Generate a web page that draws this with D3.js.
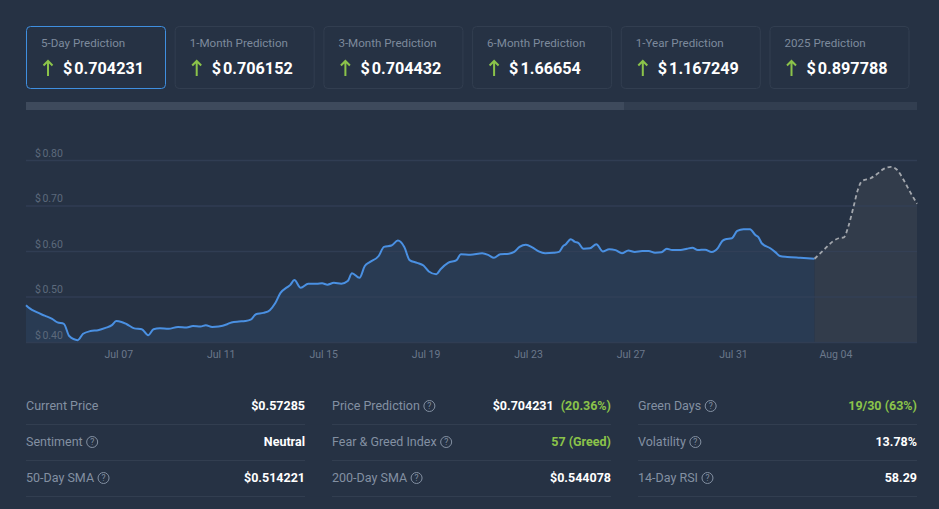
<!DOCTYPE html>
<html>
<head>
<meta charset="utf-8">
<script src="https://cdn.jsdelivr.net/npm/d3@7"></script>
<style>
  html, body { margin: 0; padding: 0; background: #263244; }
  svg { display: block; font-family: Roboto, "Noto Sans", sans-serif; }
</style>
</head>
<body>
<svg id="chart" width="939" height="509"></svg>
<script>
// prediction cards
const cardTitles = ['5-Day Prediction', '1-Month Prediction', '3-Month Prediction', '6-Month Prediction', '1-Year Prediction', '2025 Prediction'];
const cardValues = ['0.704231', '0.706152', '0.704432', '1.66654', '1.167249', '0.897788'];

// price history (2024)
const priceTimes = [
  '07-03 09:30', '07-03 13:00', '07-03 19:00', '07-04 03:00', '07-04 10:00', '07-04 15:00', '07-04 21:00',
  '07-05 02:00', '07-05 10:00', '07-05 15:00', '07-05 22:00', '07-06 05:00', '07-06 12:00', '07-06 18:00',
  '07-06 22:00', '07-07 03:00', '07-07 08:00', '07-07 15:00', '07-07 22:00', '07-08 04:00', '07-08 09:00',
  '07-08 15:00', '07-08 23:00', '07-09 08:00', '07-09 16:00', '07-09 22:00', '07-10 05:00', '07-10 10:00',
  '07-10 16:00', '07-10 22:00', '07-11 06:00', '07-11 10:00', '07-11 17:00', '07-11 23:00', '07-12 04:00',
  '07-12 09:00', '07-12 16:00', '07-12 22:00', '07-13 03:00', '07-13 08:00', '07-13 14:00', '07-13 17:00',
  '07-13 21:00', '07-14 03:00', '07-14 10:00', '07-14 18:00', '07-14 23:00', '07-15 04:00', '07-15 10:00',
  '07-15 17:00', '07-15 23:00', '07-16 03:00', '07-16 10:00', '07-16 15:00', '07-16 20:00', '07-17 04:00',
  '07-17 09:00', '07-17 16:00', '07-17 22:00', '07-18 04:00', '07-18 09:00', '07-18 16:00', '07-18 22:00',
  '07-19 03:00', '07-19 10:00', '07-19 14:00', '07-19 21:00', '07-20 05:00', '07-20 09:00', '07-20 18:00',
  '07-21 05:00', '07-21 11:00', '07-21 16:00', '07-21 22:00', '07-22 06:00', '07-22 11:00', '07-22 16:00',
  '07-22 22:00', '07-23 04:00', '07-23 10:00', '07-23 16:00', '07-24 00:00', '07-24 05:00', '07-24 09:00',
  '07-24 11:00', '07-24 16:00', '07-24 20:00', '07-24 23:00', '07-25 04:00', '07-25 10:00', '07-25 16:00',
  '07-25 22:00', '07-26 04:00', '07-26 10:00', '07-26 16:00', '07-26 22:00', '07-27 04:00', '07-27 11:00',
  '07-27 17:00', '07-27 23:00', '07-28 05:00', '07-28 10:00', '07-28 15:00', '07-28 23:00', '07-29 05:00',
  '07-29 10:00', '07-29 15:00', '07-29 22:00', '07-30 04:00', '07-30 10:00', '07-30 14:00', '07-30 17:00',
  '07-30 23:00', '07-31 04:00', '07-31 10:00', '07-31 16:00', '07-31 21:00', '08-01 00:00', '08-01 03:00',
  '08-01 11:00', '08-01 16:00', '08-01 20:00', '08-02 03:00', '08-02 15:00', '08-03 04:30'
];
const priceValues = [
  0.481, 0.474, 0.466, 0.458, 0.451, 0.443, 0.440,
  0.413, 0.404, 0.418, 0.424, 0.426, 0.431, 0.437,
  0.446, 0.444, 0.439, 0.430, 0.428, 0.415, 0.428,
  0.430, 0.429, 0.433, 0.432, 0.435, 0.434, 0.437,
  0.433, 0.434, 0.439, 0.443, 0.445, 0.446, 0.449,
  0.461, 0.464, 0.470, 0.485, 0.508, 0.520, 0.525,
  0.536, 0.519, 0.528, 0.528, 0.529, 0.526, 0.530,
  0.528, 0.534, 0.551, 0.541, 0.567, 0.576, 0.589,
  0.609, 0.612, 0.623, 0.609, 0.580, 0.574, 0.568,
  0.555, 0.549, 0.560, 0.574, 0.580, 0.593, 0.592,
  0.595, 0.591, 0.585, 0.593, 0.594, 0.598, 0.609,
  0.614, 0.608, 0.599, 0.595, 0.596, 0.598, 0.611,
  0.614, 0.626, 0.620, 0.618, 0.605, 0.606, 0.615,
  0.599, 0.604, 0.602, 0.595, 0.601, 0.598, 0.600,
  0.600, 0.596, 0.597, 0.605, 0.602, 0.602, 0.605,
  0.607, 0.602, 0.603, 0.598, 0.607, 0.622, 0.626,
  0.628, 0.644, 0.648, 0.648, 0.635, 0.630, 0.617,
  0.606, 0.597, 0.589, 0.587, 0.585, 0.583
];

// 5-day forecast
const forecastTimes = [
  '08-03 04:30', '08-03 13:00', '08-03 21:00', '08-04 03:00', '08-04 08:00', '08-04 12:00',
  '08-04 17:00', '08-04 21:00', '08-05 01:00', '08-05 09:00', '08-05 15:00', '08-05 21:00',
  '08-06 04:00', '08-06 10:00', '08-06 16:00', '08-06 22:00', '08-07 04:30'
];
const forecastValues = [
  0.583, 0.602, 0.620, 0.628, 0.630, 0.653,
  0.697, 0.734, 0.754, 0.760, 0.769, 0.780,
  0.785, 0.778, 0.756, 0.730, 0.704
];

const yTicks = [0.40, 0.50, 0.60, 0.70, 0.80];
const xTickDays = ['07-07', '07-11', '07-15', '07-19', '07-23', '07-27', '07-31', '08-04'];

// stats table, one array per column
const statLabels = [
  ['Current Price', 'Sentiment', '50-Day SMA'],
  ['Price Prediction', 'Fear & Greed Index', '200-Day SMA'],
  ['Green Days', 'Volatility', '14-Day RSI']
];
const statHelp = [
  [false, true, true],
  [true, true, true],
  [true, true, true]
];
const statValues = [
  ['$0.57285', 'Neutral', '$0.514221'],
  ['$0.704231', '57 (Greed)', '$0.544078'],
  ['19/30 (63%)', '13.78%', '58.29']
];
const statExtra = [
  [null, null, null],
  ['(20.36%)', null, null],
  [null, null, null]
];
const statGreen = [
  [false, false, false],
  [false, true, false],
  [true, false, false]
];

const green = '#8bc34a';
const svg = d3.select('#chart');
const parseTime = d3.timeParse('%Y-%m-%d %H:%M');
const parseDay = d3.timeParse('%Y-%m-%d');

// ---- prediction cards ----
const cardW = 139, cardH = 62, cardX0 = 26, cardPitch = 148.7, cardY = 26;
const cards = svg.append('g')
  .selectAll('g')
  .data(cardTitles)
  .join('g')
    .attr('transform', (d, i) => `translate(${cardX0 + i * cardPitch},${cardY})`);

cards.append('rect')
    .attr('x', 0.5).attr('y', 0.5)
    .attr('width', cardW).attr('height', cardH)
    .attr('rx', 4)
    .attr('fill', '#263244')
    .attr('stroke', (d, i) => i === 0 ? '#3f8fe0' : '#323e50')
    .attr('stroke-width', 1);

cards.append('text')
    .attr('x', 15).attr('y', 21)
    .attr('fill', '#7d8a9c')
    .attr('font-size', 11.6)
    .text(d => d);

cards.append('path')
    .attr('d', 'M22,50 L22,35 M17.5,39.5 L22,35 L26.5,39.5')
    .attr('fill', 'none')
    .attr('stroke', green)
    .attr('stroke-width', 2);

const cardVal = cards.append('text')
    .attr('x', 37).attr('y', 48)
    .attr('fill', '#ffffff')
    .attr('font-size', 16.2)
    .attr('font-weight', 'bold');
cardVal.append('tspan').text('$');
cardVal.append('tspan').attr('dx', 2).text((d, i) => cardValues[i]);

// ---- scroll bar ----
svg.append('rect').attr('x', 26).attr('y', 102).attr('width', 891).attr('height', 8).attr('fill', '#323e50');
svg.append('rect').attr('x', 26).attr('y', 102).attr('width', 598).attr('height', 8).attr('fill', '#3e4a5c');

// ---- chart ----
const plotLeft = 26, plotRight = 917, plotTop = 160, plotBottom = 342;
const price = priceTimes.map((t, i) => ({ date: parseTime('2024-' + t), value: priceValues[i] }));
const forecast = forecastTimes.map((t, i) => ({ date: parseTime('2024-' + t), value: forecastValues[i] }));

const x = d3.scaleTime()
    .domain([price[0].date, forecast[forecast.length - 1].date])
    .range([plotLeft, plotRight]);
const y = d3.scaleLinear()
    .domain([0.40, 0.80])
    .range([plotBottom, plotTop]);

const area = d3.area()
    .x(d => x(d.date))
    .y0(plotBottom)
    .y1(d => y(d.value))
    .curve(d3.curveMonotoneX);
const line = d3.line()
    .x(d => x(d.date))
    .y(d => y(d.value))
    .curve(d3.curveMonotoneX);

svg.append('path').datum(price).attr('d', area).attr('fill', '#293b53');
svg.append('path').datum(forecast).attr('d', area).attr('fill', '#323c4b');

const yAxis = svg.append('g')
    .attr('transform', `translate(${plotLeft},0)`)
    .call(d3.axisRight(y)
      .tickValues(yTicks)
      .tickSize(plotRight - plotLeft));
yAxis.select('.domain').remove();
yAxis.selectAll('line').attr('stroke', '#34415a').attr('stroke-opacity', 0.7).attr('stroke-width', 1.5);
yAxis.selectAll('text')
    .attr('x', 9).attr('y', -4).attr('dy', 0)
    .attr('fill', '#5d6a7c')
    .attr('font-size', 10.5)
    .attr('font-family', 'Roboto, sans-serif')
    .attr('text-anchor', 'start')
    .each(function (d) {
      const t = d3.select(this).text('');
      t.append('tspan').text('$');
      t.append('tspan').attr('dx', 1.5).text(d3.format('.2f')(d));
    });

svg.append('path').datum(price)
    .attr('d', line)
    .attr('fill', 'none')
    .attr('stroke', '#4a90e2')
    .attr('stroke-width', 2)
    .attr('stroke-linejoin', 'round');
svg.append('path').datum(forecast)
    .attr('d', line)
    .attr('fill', 'none')
    .attr('stroke', '#a3a7ad')
    .attr('stroke-width', 1.8)
    .attr('stroke-dasharray', '4,3');

const xAxis = svg.append('g')
    .attr('transform', `translate(0,${plotBottom})`)
    .call(d3.axisBottom(x)
      .tickValues(xTickDays.map(d => parseDay('2024-' + d)))
      .tickSize(0)
      .tickPadding(9)
      .tickFormat(d3.timeFormat('%b %d')));
xAxis.select('.domain').remove();
xAxis.selectAll('text')
    .attr('fill', '#6b788b')
    .attr('font-size', 10.5)
    .attr('font-family', 'Roboto, sans-serif');

// ---- stats table ----
const colX = [26, 332, 638], colW = [279, 279, 279];
const rowY = [406, 442, 478];
const sepY = [424, 460, 496];

statLabels.forEach((col, c) => {
  const g = svg.append('g').attr('transform', `translate(${colX[c]},0)`);
  col.forEach((label, r) => {
    g.append('line')
        .attr('x1', 0).attr('x2', colW[c])
        .attr('y1', sepY[r] + 0.5).attr('y2', sepY[r] + 0.5)
        .attr('stroke', '#323e50');
    const t = g.append('text')
        .attr('x', 0).attr('y', rowY[r])
        .attr('dy', '0.35em')
        .attr('fill', '#8390a2')
        .attr('font-size', 12.5)
        .text(label);
    if (statHelp[c][r]) {
      const w = t.node().getComputedTextLength();
      const cx = w + 9.5;
      g.append('circle')
          .attr('cx', cx).attr('cy', rowY[r])
          .attr('r', 5.5)
          .attr('fill', 'none')
          .attr('stroke', '#8390a2')
          .attr('stroke-width', 1);
      g.append('text')
          .attr('x', cx).attr('y', rowY[r])
          .attr('dy', '0.35em')
          .attr('text-anchor', 'middle')
          .attr('fill', '#8390a2')
          .attr('font-size', 8.5)
          .text('?');
    }
    const v = g.append('text')
        .attr('x', colW[c]).attr('y', rowY[r])
        .attr('dy', '0.35em')
        .attr('text-anchor', 'end')
        .attr('font-size', 12.5)
        .attr('font-weight', 'bold')
        .attr('fill', statGreen[c][r] ? green : '#ffffff');
    v.append('tspan').text(statValues[c][r]);
    if (statExtra[c][r]) {
      v.append('tspan').attr('dx', 7).attr('fill', green).text(statExtra[c][r]);
    }
  });
});
</script>
</body>
</html>
